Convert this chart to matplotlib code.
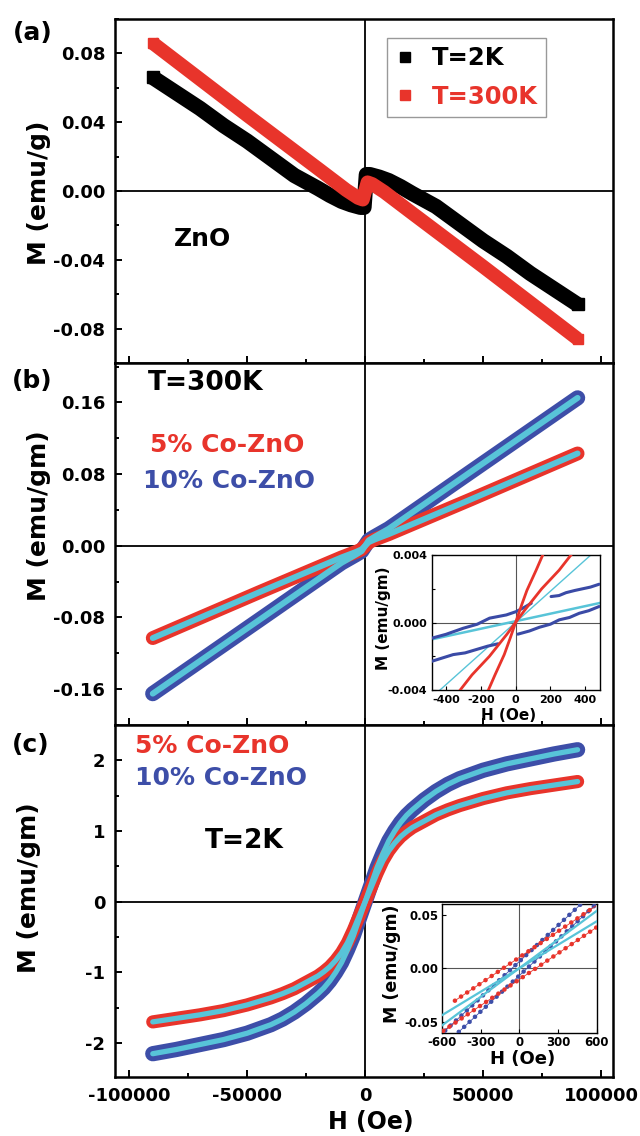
import matplotlib
matplotlib.use("Agg")
import matplotlib.pyplot as plt
from matplotlib.ticker import MultipleLocator, FormatStrFormatter, FixedLocator
from matplotlib.lines import Line2D

plt.rcParams['font.family'] = ['DejaVu Sans']
plt.rcParams['font.weight'] = 'bold'
plt.rcParams['axes.unicode_minus'] = False

RED = '#e8342b'
BLUE = '#3d4ea8'
CYAN = '#58c4d8'
NAVY = '#3a4aa6'

# ---------------- Panel (a): ZnO ----------------
H_2K = [-90000, -80000, -70000, -60000, -50000, -40000, -30000, -20000, -15000, -10000, -6000, -2000, -500,
        500, 2000, 6000, 10000, 15000, 20000, 30000, 40000, 50000, 60000, 70000, 80000, 90000]
M_2K = [0.066, 0.057, 0.048, 0.038, 0.029, 0.019, 0.009, 0.0015, -0.0025, -0.006, -0.008, -0.0095, -0.0095,
        0.0095, 0.0095, 0.008, 0.006, 0.0025, -0.0015, -0.009, -0.019, -0.029, -0.038, -0.048, -0.057, -0.066]
H_300K = [-90000, -50000, -20000, -8000, -3000, -1000, 0, 1000, 3000, 8000, 20000, 50000, 90000]
M_300K = [0.086, 0.044, 0.013, 0.0005, -0.004, -0.005, 0.0, 0.005, 0.004, -0.0005, -0.013, -0.044, -0.086]
legend_a = ['T=2K', 'T=300K']

# ---------------- Panel (b): T=300K ----------------
H_b = [-90000, -45000, -10000, -4000, -1500, 0, 1500, 4000, 10000, 45000, 90000]
M5_b = [-0.103, -0.052, -0.013, -0.007, -0.004, 0.0, 0.004, 0.007, 0.013, 0.052, 0.103]
M10_b = [-0.165, -0.083, -0.019, -0.010, -0.006, 0.0, 0.006, 0.010, 0.019, 0.083, 0.165]
labels_co = ['5% Co-ZnO', '10% Co-ZnO']

# inset (b)
Hs1 = [-318, -250, -150, -50, 0, 50, 150, 250, 318]
Ms1 = [-0.004, -0.0031, -0.0020, -0.0007, 0.0, 0.0007, 0.0020, 0.0031, 0.004]
Hs2 = [-156, -118, -65, -30, 0, 30, 65, 118, 156]
Ms2 = [-0.004, -0.0031, -0.0019, -0.0009, 0.0, 0.0009, 0.0019, 0.0031, 0.004]
Hc_steep = [-434, 432]
Mc_steep = [-0.004, 0.004]
Hc_flat = [-482, 480]
Mc_flat = [-0.001, 0.00115]
Hn1 = [-482, -400, -301, -220, -149, -53, 4, 50, 90]
Mn1 = [-0.00093, -0.0007, -0.00034, -0.0001, 0.00026, 0.00045, 0.00065, 0.0009, 0.00114]
Hn2 = [-482, -420, -358, -290, -225, -160, -101]
Mn2 = [-0.0023, -0.0021, -0.0019, -0.0018, -0.0016, -0.0014, -0.00126]
Hn3 = [204, 250, 290, 340, 385, 430, 480]
Mn3 = [0.00154, 0.0016, 0.00177, 0.0019, 0.0020, 0.0021, 0.00227]
Hn4 = [13, 80, 137, 200, 251, 310, 366, 420, 480]
Mn4 = [-0.00069, -0.0005, -0.00028, -0.0001, 0.00016, 0.0003, 0.00055, 0.0007, 0.00095]

# ---------------- Panel (c): T=2K ----------------
H_c = [-90000, -80000, -70000, -60000, -50000, -40000, -35000, -30000, -25000, -20000, -17500, -15000,
       -12500, -10000, -7500, -5000, -2500, 0,
       2500, 5000, 7500, 10000, 12500, 15000, 17500, 20000, 25000, 30000, 35000, 40000, 50000, 60000,
       70000, 80000, 90000]
M5_c = [-1.70, -1.65, -1.60, -1.54, -1.46, -1.36, -1.30, -1.23, -1.14, -1.05, -0.99, -0.92,
        -0.83, -0.72, -0.58, -0.40, -0.20, 0.0,
        0.20, 0.40, 0.58, 0.72, 0.83, 0.92, 0.99, 1.05, 1.14, 1.23, 1.30, 1.36, 1.46, 1.54,
        1.60, 1.65, 1.70]
M10_c = [-2.15, -2.09, -2.02, -1.95, -1.86, -1.74, -1.66, -1.56, -1.44, -1.30, -1.22, -1.12,
         -1.00, -0.86, -0.68, -0.48, -0.24, 0.0,
         0.24, 0.48, 0.68, 0.86, 1.00, 1.12, 1.22, 1.30, 1.44, 1.56, 1.66, 1.74, 1.86, 1.95,
         2.02, 2.09, 2.15]

# inset (c)
Hr_up = [-500, 590]
Mr_up = [-0.030, 0.058]
Hr_lo = [-590, 600]
Mr_lo = [-0.058, 0.0385]
Hb_up = [-575, 475]
Mb_up = [-0.0578, 0.0598]
Hb_lo = [-470, 590]
Mb_lo = [-0.059, 0.0595]
Hcy1 = [-600, 600]
Mcy1 = [-0.0435, 0.044]
Hcy2 = [-600, 600]
Mcy2 = [-0.053, 0.0537]

fig = plt.figure(figsize=(6.4, 11.36), dpi=100)
L = 0.1797
W = 0.9578 - 0.1797
ax_a = fig.add_axes([L, 0.6805, W, 0.9833 - 0.6805])
ax_b = fig.add_axes([L, 0.3618, W, 0.6805 - 0.3618])
ax_c = fig.add_axes([L, 0.0519, W, 0.3618 - 0.0519])


def style_main(ax, show_x):
    for s in ax.spines.values():
        s.set_linewidth(1.8)
    ax.set_xlim(-106000, 105000)
    ax.xaxis.set_major_locator(MultipleLocator(50000))
    ax.xaxis.set_minor_locator(MultipleLocator(25000))
    ax.xaxis.set_major_formatter(FormatStrFormatter('%d'))
    ax.tick_params(which='both', direction='in', width=1.4, labelsize=13, pad=7,
                   top=False, right=False)
    ax.tick_params(which='major', length=4.7)
    ax.tick_params(which='minor', length=2.9)
    if not show_x:
        ax.tick_params(axis='x', labelbottom=False)
    ax.axhline(0, color='k', lw=1.3, zorder=1)
    ax.axvline(0, color='k', lw=1.3, zorder=1)


# ---- (a)
style_main(ax_a, False)
ax_a.set_ylim(-0.1, 0.1)
ax_a.yaxis.set_major_locator(MultipleLocator(0.04))
ax_a.yaxis.set_minor_locator(MultipleLocator(0.02))
ax_a.yaxis.set_major_formatter(FormatStrFormatter('%.2f'))
ax_a.plot(H_2K, M_2K, color='k', lw=11, solid_capstyle='butt', solid_joinstyle='round',
          marker='s', markersize=8, markevery=[0, len(H_2K) - 1], zorder=3)
ax_a.plot(H_300K, M_300K, color=RED, lw=10, solid_capstyle='butt', solid_joinstyle='round',
          marker='s', markersize=7.5, markevery=[0, len(H_300K) - 1], zorder=4)
handles = [Line2D([], [], marker='s', color='k', ls='none', markersize=7),
           Line2D([], [], marker='s', color=RED, ls='none', markersize=7)]
leg = ax_a.legend(handles, legend_a, loc='upper left', bbox_to_anchor=(0.546, 0.945),
                  frameon=True, fancybox=False, edgecolor='#808080',
                  handlelength=0.8, handletextpad=0.7, borderpad=0.35, labelspacing=0.6,
                  borderaxespad=0, prop={'weight': 'bold', 'size': 17.5})
leg.get_frame().set_linewidth(1.0)
for t, c in zip(leg.get_texts(), ['k', RED]):
    t.set_color(c)
ax_a.text(0.118, 0.36, 'ZnO', transform=ax_a.transAxes, fontsize=18, fontweight='bold',
          va='center', ha='left')
ax_a.set_ylabel('M (emu/g)', fontsize=18, fontweight='bold')
ax_a.yaxis.set_label_coords(-0.128, 0.494)

# ---- (b)
style_main(ax_b, False)
ax_b.set_ylim(-0.2, 0.204)
ax_b.yaxis.set_major_locator(MultipleLocator(0.08))
ax_b.yaxis.set_minor_locator(MultipleLocator(0.04))
ax_b.yaxis.set_major_formatter(FormatStrFormatter('%.2f'))
ax_b.plot(H_b, M10_b, color=BLUE, lw=11, solid_capstyle='round', solid_joinstyle='round', zorder=3)
ax_b.plot(H_b, M5_b, color=RED, lw=10, solid_capstyle='round', solid_joinstyle='round', zorder=4)
ax_b.plot(H_b, M10_b, color=CYAN, lw=4.3, solid_capstyle='round', solid_joinstyle='round', zorder=5)
ax_b.plot(H_b, M5_b, color=CYAN, lw=4.3, solid_capstyle='round', solid_joinstyle='round', zorder=5)
ax_b.text(0.066, 0.945, 'T=300K', transform=ax_b.transAxes, fontsize=19, fontweight='bold',
          va='center', ha='left')
ax_b.text(0.070, 0.773, labels_co[0], transform=ax_b.transAxes, fontsize=18, fontweight='bold',
          va='center', ha='left', color=RED)
ax_b.text(0.056, 0.674, labels_co[1], transform=ax_b.transAxes, fontsize=18, fontweight='bold',
          va='center', ha='left', color=BLUE)
ax_b.set_ylabel('M (emu/gm)', fontsize=18, fontweight='bold')
ax_b.yaxis.set_label_coords(-0.128, 0.577)

# ---- (c)
style_main(ax_c, True)
ax_c.set_ylim(-2.48, 2.5)
ax_c.yaxis.set_major_locator(MultipleLocator(1))
ax_c.yaxis.set_minor_locator(MultipleLocator(0.5))
ax_c.yaxis.set_major_formatter(FormatStrFormatter('%d'))
ax_c.plot(H_c, M10_c, color=BLUE, lw=11, solid_capstyle='round', solid_joinstyle='round', zorder=3)
ax_c.plot(H_c, M5_c, color=RED, lw=9.5, solid_capstyle='round', solid_joinstyle='round', zorder=4)
ax_c.plot(H_c, M10_c, color=CYAN, lw=3.8, solid_capstyle='round', solid_joinstyle='round', zorder=5)
ax_c.plot(H_c, M5_c, color=CYAN, lw=3.8, solid_capstyle='round', solid_joinstyle='round', zorder=5)
ax_c.text(0.040, 0.940, labels_co[0], transform=ax_c.transAxes, fontsize=18, fontweight='bold',
          va='center', ha='left', color=RED)
ax_c.text(0.040, 0.849, labels_co[1], transform=ax_c.transAxes, fontsize=18, fontweight='bold',
          va='center', ha='left', color=BLUE)
ax_c.text(0.181, 0.670, 'T=2K', transform=ax_c.transAxes, fontsize=19, fontweight='bold',
          va='center', ha='left')
ax_c.set_ylabel('M (emu/gm)', fontsize=18, fontweight='bold')
ax_c.yaxis.set_label_coords(-0.149, 0.537)
ax_c.set_xlabel('H (Oe)', fontsize=17, fontweight='bold')
ax_c.xaxis.set_label_coords(0.514, -0.094)

# panel letters
fig.text(0.020, 0.971, '(a)', fontsize=18, fontweight='bold', va='center', ha='left')
fig.text(0.019, 0.6646, '(b)', fontsize=18, fontweight='bold', va='center', ha='left')
fig.text(0.019, 0.344, '(c)', fontsize=18, fontweight='bold', va='center', ha='left')


def style_inset(ax, lab, pad):
    for s in ax.spines.values():
        s.set_linewidth(1.0)
    ax.tick_params(which='both', direction='in', width=0.8, labelsize=lab, pad=pad,
                   top=False, right=False)
    ax.tick_params(which='major', length=3)
    ax.tick_params(which='minor', length=1.8)
    ax.axhline(0, color='#555555', lw=0.8, zorder=1)
    ax.axvline(0, color='#555555', lw=0.8, zorder=1)


# ---- inset (b)
ib = fig.add_axes([0.675, 0.3926, 0.2625, 0.1188])
style_inset(ib, 8, 3.5)
ib.set_xlim(-480, 485)
ib.set_ylim(-0.004, 0.004)
ib.xaxis.set_major_locator(FixedLocator([-400, -200, 0, 200, 400]))
ib.yaxis.set_major_locator(FixedLocator([-0.004, 0.0, 0.004]))
ib.yaxis.set_minor_locator(FixedLocator([-0.002, 0.002]))
ib.yaxis.set_major_formatter(FormatStrFormatter('%.3f'))
ib.plot(Hc_steep, Mc_steep, color=CYAN, lw=1.0, zorder=2)
ib.plot(Hc_flat, Mc_flat, color=CYAN, lw=1.8, zorder=2)
for hh, mm in [(Hn1, Mn1), (Hn2, Mn2), (Hn3, Mn3), (Hn4, Mn4)]:
    ib.plot(hh, mm, color=NAVY, lw=2.2, solid_capstyle='round', zorder=3)
ib.plot(Hs1, Ms1, color=RED, lw=2.0, zorder=4)
ib.plot(Hs2, Ms2, color=RED, lw=2.0, zorder=4)
ib.set_ylabel('M (emu/gm)', fontsize=11, fontweight='bold')
ib.yaxis.set_label_coords(-0.244, 0.533)
ib.set_xlabel('H (Oe)', fontsize=11, fontweight='bold')
ib.xaxis.set_label_coords(0.458, -0.133)

# ---- inset (c)
ic = fig.add_axes([0.6906, 0.0907, 0.2422, 0.1136])
style_inset(ic, 8.5, 2.5)
ic.set_xlim(-600, 600)
ic.set_ylim(-0.06, 0.06)
ic.xaxis.set_major_locator(FixedLocator([-600, -300, 0, 300, 600]))
ic.yaxis.set_major_locator(FixedLocator([-0.05, 0.0, 0.05]))
ic.yaxis.set_major_formatter(FormatStrFormatter('%.2f'))
for hh, mm, col in [(Hb_up, Mb_up, BLUE), (Hb_lo, Mb_lo, BLUE),
                    (Hr_up, Mr_up, RED), (Hr_lo, Mr_lo, RED)]:
    ic.plot(hh, mm, color=col, lw=0.6, zorder=3)
    ic.plot(hh, mm, color=col, lw=3.3, ls=(0, (0.01, 1.6)), dash_capstyle='round', zorder=3)
ic.plot(Hcy1, Mcy1, color=CYAN, lw=1.6, zorder=4)
ic.plot(Hcy2, Mcy2, color=CYAN, lw=1.6, zorder=4)
ic.set_ylabel('M (emu/gm)', fontsize=12.5, fontweight='bold')
ic.yaxis.set_label_coords(-0.265, 0.54)
ic.set_xlabel('H (Oe)', fontsize=13, fontweight='bold')
ic.xaxis.set_label_coords(0.518, -0.135)

fig.savefig('out.png', dpi=100, facecolor='white')
